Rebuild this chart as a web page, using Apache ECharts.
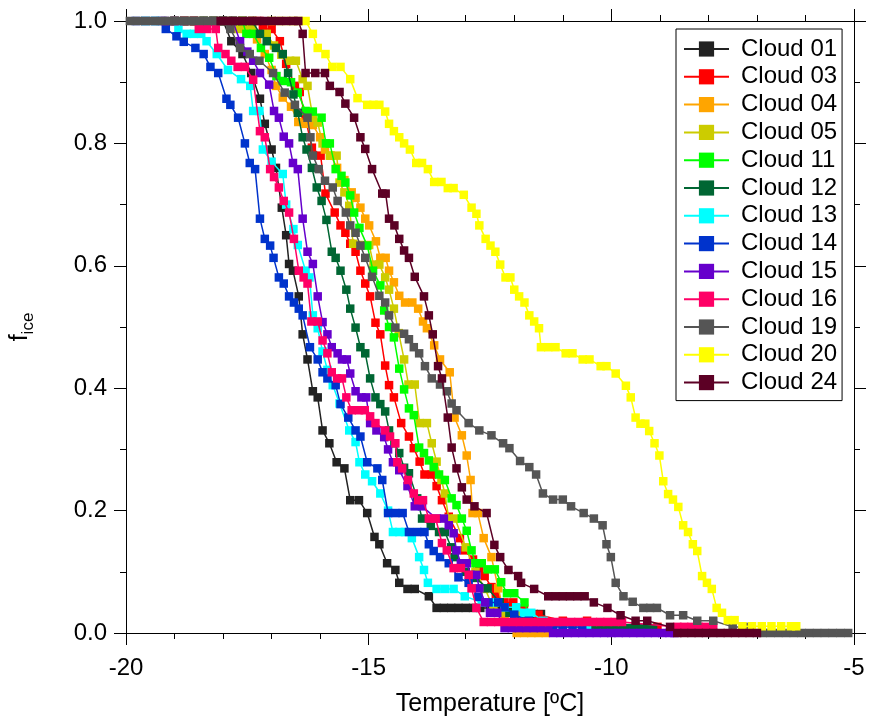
<!DOCTYPE html>
<html>
<head>
<meta charset="utf-8">
<script src="https://cdn.jsdelivr.net/npm/echarts@6/dist/echarts.min.js"></script>
<style>
  html, body { margin: 0; padding: 0; background: #fff; }
  #chart { width: 869px; height: 722px; }
</style>
</head>
<body>
<div id="chart"></div>
<script>
const seriesNames = ["Cloud 01", "Cloud 03", "Cloud 04", "Cloud 05", "Cloud 11", "Cloud 12", "Cloud 13",
  "Cloud 14", "Cloud 15", "Cloud 16", "Cloud 19", "Cloud 20", "Cloud 24"];

const xTicks = [-20, -15, -10, -5];
const yTicks = [0.0, 0.2, 0.4, 0.6, 0.8, 1.0];

// [temperature °C, f_ice]
const cloud01 = [[-19.0,1],[-18.8,1],[-18.6,1],[-18.4,1],[-18.2,1],[-18.0,1],[-17.83,0.967],[-17.6,0.946],[-17.42,0.915],
  [-17.24,0.873],[-17.14,0.832],[-17.0,0.79],[-16.91,0.76],[-16.79,0.695],[-16.7,0.65],[-16.64,0.603],[-16.56,0.592],
  [-16.44,0.55],[-16.36,0.488],[-16.26,0.447],[-16.15,0.395],[-16.05,0.385],[-15.95,0.331],[-15.81,0.31],[-15.66,0.279],
  [-15.5,0.269],[-15.38,0.217],[-15.2,0.217],[-15.03,0.196],[-14.88,0.157],[-14.78,0.145],[-14.62,0.114],[-14.45,0.103],
  [-14.37,0.082],[-14.2,0.072],[-14.05,0.072],[-13.76,0.06],[-13.6,0.041],[-13.45,0.041],[-13.3,0.041],[-13.15,0.041],
  [-13.0,0.041],[-12.85,0.041],[-12.7,0.041],[-12.5,0.041],[-12.3,0.041],[-12.1,0.041],[-11.8,0.031],[-11.6,0.031],[-11.45,0.031]];

const cloud03 = [[-19.0,1],[-18.8,1],[-18.6,1],[-18.4,1],[-18.2,1],[-18.0,1],[-17.8,1],[-17.6,1],[-17.4,1],[-17.25,1],
  [-17.18,0.987],[-17.0,0.987],[-16.83,0.967],[-16.7,0.93],[-16.52,0.894],[-16.42,0.884],[-16.3,0.84],[-16.17,0.793],
  [-15.99,0.78],[-15.89,0.718],[-15.7,0.687],[-15.58,0.666],[-15.48,0.654],[-15.38,0.636],[-15.27,0.623],[-15.17,0.592],
  [-15.07,0.571],[-14.97,0.55],[-14.86,0.507],[-14.76,0.488],[-14.66,0.437],[-14.58,0.405],[-14.48,0.385],[-14.33,0.343],
  [-14.17,0.321],[-14.07,0.302],[-13.95,0.28],[-13.85,0.259],[-13.7,0.259],[-13.6,0.24],[-13.49,0.217],[-13.35,0.19],
  [-13.12,0.155],[-13.02,0.135],[-12.85,0.12],[-12.72,0.106],[-12.61,0.093],[-12.47,0.075],[-12.38,0.062],[-12.2,0.05],
  [-12.02,0.05],[-11.8,0.04],[-11.5,0.03],[-11.0,0.02],[-10.5,0.02],[-10.0,0.01],[-9.05,0.01]];

const cloud04 = [[-19.0,1],[-18.8,1],[-18.6,1],[-18.4,1],[-18.2,1],[-18.0,1],[-17.8,1],[-17.6,1],[-17.4,1],[-17.3,0.97],
  [-17.14,0.946],[-17.0,0.92],[-16.91,0.894],[-16.77,0.875],[-16.6,0.86],[-16.45,0.835],[-16.3,0.832],[-16.15,0.83],
  [-16.0,0.81],[-15.9,0.79],[-15.78,0.78],[-15.65,0.76],[-15.5,0.74],[-15.35,0.72],[-15.27,0.711],[-15.17,0.695],
  [-15.07,0.677],[-14.99,0.666],[-14.85,0.64],[-14.76,0.613],[-14.65,0.613],[-14.58,0.592],[-14.48,0.573],[-14.37,0.551],
  [-14.25,0.54],[-14.1,0.54],[-13.98,0.53],[-13.88,0.509],[-13.8,0.498],[-13.65,0.47],[-13.53,0.447],[-13.33,0.426],
  [-13.23,0.352],[-13.08,0.323],[-12.98,0.29],[-12.9,0.25],[-12.86,0.196],[-12.75,0.196],[-12.63,0.155],[-12.47,0.124],
  [-12.33,0.073],[-12.2,0.03],[-11.95,0],[-11.8,0],[-11.65,0],[-11.5,0],[-11.35,0]];

const cloud05 = [[-19.0,1],[-18.8,1],[-18.6,1],[-18.4,1],[-18.2,1],[-18.0,1],[-17.8,1],[-17.7,0.987],[-17.55,0.987],
  [-17.4,0.987],[-17.1,0.979],[-16.95,0.96],[-16.8,0.945],[-16.62,0.935],[-16.5,0.935],[-16.36,0.905],[-16.26,0.894],
  [-16.15,0.842],[-16.05,0.834],[-15.95,0.8],[-15.8,0.78],[-15.66,0.78],[-15.6,0.736],[-15.5,0.72],[-15.4,0.698],
  [-15.32,0.636],[-15.15,0.634],[-14.99,0.634],[-14.9,0.602],[-14.78,0.602],[-14.66,0.581],[-14.58,0.561],[-14.48,0.53],
  [-14.38,0.49],[-14.27,0.447],[-14.18,0.406],[-14.05,0.406],[-13.95,0.343],[-13.8,0.343],[-13.7,0.31],[-13.6,0.28],
  [-13.5,0.25],[-13.43,0.228],[-13.35,0.187],[-13.22,0.187],[-13.0,0.14],[-12.8,0.1],[-12.6,0.072],[-12.43,0.041],
  [-12.2,0.035],[-11.92,0.033]];

const cloud11 = [[-19.0,1],[-18.8,1],[-18.6,1],[-18.4,1],[-18.2,1],[-18.0,1],[-17.8,1],[-17.6,1],[-17.52,0.979],
  [-17.38,0.979],[-17.22,0.956],[-17.05,0.94],[-16.9,0.91],[-16.77,0.902],[-16.6,0.9],[-16.46,0.883],[-16.3,0.853],
  [-16.15,0.852],[-15.97,0.842],[-15.88,0.8],[-15.8,0.8],[-15.68,0.758],[-15.56,0.747],[-15.48,0.736],[-15.38,0.715],
  [-15.3,0.687],[-15.19,0.662],[-15.03,0.633],[-14.91,0.592],[-14.76,0.568],[-14.68,0.527],[-14.58,0.5],[-14.48,0.483],
  [-14.37,0.432],[-14.27,0.398],[-14.17,0.367],[-14.07,0.356],[-13.96,0.303],[-13.86,0.294],[-13.76,0.282],[-13.66,0.271],
  [-13.55,0.259],[-13.43,0.25],[-13.29,0.22],[-13.19,0.209],[-13.08,0.187],[-12.98,0.167],[-12.88,0.135],[-12.8,0.114],
  [-12.67,0.114],[-12.55,0.104],[-12.4,0.104],[-12.27,0.083],[-12.15,0.065],[-12.0,0.065],[-11.79,0.05],[-11.7,0.03]];

const cloud12 = [[-19.0,1],[-18.8,1],[-18.6,1],[-18.4,1],[-18.2,1],[-18.0,1],[-17.8,1],[-17.6,1],[-17.4,1],[-17.24,0.979],
  [-17.1,0.967],[-16.91,0.956],[-16.77,0.946],[-16.66,0.915],[-16.55,0.88],[-16.46,0.85],[-16.36,0.81],[-16.28,0.79],
  [-16.17,0.76],[-16.07,0.728],[-15.97,0.706],[-15.87,0.675],[-15.76,0.623],[-15.68,0.613],[-15.58,0.592],[-15.46,0.561],
  [-15.38,0.53],[-15.27,0.499],[-15.17,0.467],[-15.07,0.457],[-14.97,0.416],[-14.86,0.385],[-14.76,0.374],[-14.66,0.362],
  [-14.58,0.331],[-14.47,0.31],[-14.37,0.294],[-14.27,0.27],[-14.17,0.261],[-14.0,0.22],[-13.9,0.187],[-13.72,0.175],
  [-13.55,0.165],[-13.43,0.165],[-13.3,0.14],[-13.23,0.124],[-13.0,0.1],[-12.8,0.09],[-12.55,0.073],[-12.3,0.05],
  [-12.1,0.033],[-11.8,0.02],[-11.0,0.01],[-10.42,0.008],[-10.27,0.008],[-10.12,0.008],[-9.97,0.008],[-9.82,0.008],
  [-9.67,0.008],[-9.52,0.008],[-9.37,0.008],[-9.22,0.008],[-9.14,0.008]];

const cloud13 = [[-19.6,1],[-19.4,1],[-19.2,1],[-19.0,1],[-18.92,0.987],[-18.75,0.979],[-18.6,0.979],[-18.45,0.979],
  [-18.34,0.967],[-18.13,0.946],[-17.9,0.92],[-17.63,0.905],[-17.44,0.894],[-17.38,0.853],[-17.25,0.853],[-17.18,0.79],
  [-17.0,0.77],[-16.77,0.75],[-16.7,0.7],[-16.55,0.66],[-16.46,0.634],[-16.3,0.592],[-16.22,0.581],[-16.15,0.519],
  [-16.05,0.498],[-15.95,0.46],[-15.85,0.43],[-15.74,0.405],[-15.6,0.375],[-15.4,0.331],[-15.27,0.312],[-15.19,0.279],
  [-15.07,0.259],[-14.93,0.248],[-14.76,0.228],[-14.6,0.2],[-14.5,0.165],[-14.37,0.165],[-14.25,0.165],[-14.11,0.155],
  [-13.96,0.124],[-13.86,0.103],[-13.78,0.082],[-13.6,0.072],[-13.43,0.072],[-13.25,0.072],[-13.02,0.06],[-12.67,0.05],
  [-12.4,0.05],[-12.2,0.042],[-11.96,0.042],[-11.8,0.033],[-11.65,0.033],[-11.4,0.02],[-11.0,0.01],[-10.5,0.01]];

const cloud14 = [[-19.8,1],[-19.6,1],[-19.4,1],[-19.25,1],[-19.18,0.987],[-18.96,0.975],[-18.81,0.966],[-18.57,0.956],
  [-18.4,0.946],[-18.26,0.925],[-18.1,0.915],[-17.93,0.873],[-17.85,0.863],[-17.69,0.842],[-17.55,0.8],[-17.45,0.768],
  [-17.34,0.758],[-17.24,0.677],[-17.14,0.644],[-17.03,0.633],[-16.96,0.613],[-16.85,0.581],[-16.75,0.571],[-16.64,0.55],
  [-16.54,0.54],[-16.44,0.53],[-16.36,0.519],[-16.21,0.467],[-16.05,0.447],[-15.95,0.426],[-15.85,0.416],[-15.68,0.405],
  [-15.58,0.374],[-15.42,0.352],[-15.27,0.331],[-15.17,0.321],[-15.03,0.279],[-14.82,0.269],[-14.72,0.25],[-14.6,0.196],
  [-14.45,0.196],[-14.3,0.196],[-14.17,0.165],[-14.0,0.165],[-13.85,0.165],[-13.76,0.145],[-13.66,0.134],[-13.53,0.124],
  [-13.35,0.114],[-13.15,0.091],[-12.94,0.082],[-12.74,0.059],[-12.53,0.05],[-12.33,0.05],[-12.2,0.042],[-12.0,0.03],
  [-11.7,0.02],[-11.4,0.01],[-11.2,0.01],[-11.0,0.01],[-10.8,0.01],[-10.6,0.01]];

const cloud15 = [[-19.0,1],[-18.8,1],[-18.6,1],[-18.4,1],[-18.2,1],[-18.0,1],[-17.8,1],[-17.65,0.967],[-17.5,0.95],
  [-17.38,0.935],[-17.24,0.915],[-17.05,0.896],[-16.95,0.853],[-16.85,0.842],[-16.75,0.811],[-16.64,0.8],[-16.56,0.768],
  [-16.46,0.758],[-16.36,0.677],[-16.26,0.623],[-16.15,0.603],[-16.05,0.55],[-15.95,0.508],[-15.85,0.488],[-15.76,0.467],
  [-15.64,0.457],[-15.55,0.447],[-15.45,0.447],[-15.38,0.424],[-15.27,0.395],[-15.15,0.385],[-15.05,0.385],[-14.97,0.343],
  [-14.84,0.331],[-14.68,0.32],[-14.6,0.3],[-14.5,0.279],[-14.37,0.266],[-14.2,0.24],[-14.05,0.207],[-13.9,0.207],
  [-13.6,0.187],[-13.45,0.187],[-13.35,0.176],[-13.25,0.163],[-13.19,0.135],[-13.1,0.114],[-12.98,0.114],[-12.9,0.095],
  [-12.78,0.095],[-12.72,0.073],[-12.6,0.05],[-12.5,0.033],[-12.35,0.033],[-12.2,0.008],[-12.05,0.008],[-11.9,0.008],
  [-11.75,0.008],[-11.6,0.008],[-11.45,0.008],[-11.3,0.008],[-11.2,0],[-11.05,0],[-10.9,0],[-10.75,0],[-10.6,0],[-10.45,0],
  [-10.3,0],[-10.15,0],[-10.0,0],[-9.85,0],[-9.7,0],[-9.55,0],[-9.4,0],[-9.25,0],[-9.1,0],[-8.95,0],[-8.8,0],[-8.7,0]];

const cloud16 = [[-19.2,1],[-19.0,1],[-18.8,1],[-18.6,1],[-18.5,0.987],[-18.33,0.987],[-18.15,0.987],[-18.1,0.956],
  [-17.95,0.946],[-17.83,0.935],[-17.7,0.925],[-17.55,0.925],[-17.38,0.904],[-17.24,0.82],[-17.14,0.81],[-17.03,0.758],
  [-16.95,0.745],[-16.85,0.728],[-16.75,0.706],[-16.64,0.687],[-16.54,0.644],[-16.44,0.592],[-16.34,0.581],[-16.26,0.571],
  [-16.18,0.509],[-16.05,0.509],[-15.95,0.478],[-15.85,0.457],[-15.76,0.426],[-15.65,0.416],[-15.55,0.416],[-15.46,0.385],
  [-15.35,0.364],[-15.2,0.364],[-15.08,0.364],[-14.97,0.354],[-14.86,0.343],[-14.66,0.331],[-14.56,0.321],[-14.45,0.31],
  [-14.41,0.279],[-14.31,0.269],[-14.19,0.25],[-14.07,0.228],[-13.98,0.217],[-13.88,0.217],[-13.76,0.187],[-13.62,0.187],
  [-13.49,0.147],[-13.39,0.135],[-13.25,0.106],[-13.1,0.106],[-12.94,0.095],[-12.88,0.073],[-12.78,0.041],[-12.63,0.018],
  [-12.48,0.018],[-12.33,0.018],[-12.18,0.018],[-12.03,0.018],[-11.88,0.018],[-11.73,0.018],[-11.58,0.018],[-11.43,0.018],
  [-11.28,0.018],[-11.13,0.018],[-10.98,0.018],[-10.83,0.018],[-10.68,0.018],[-10.53,0.018],[-10.38,0.018],[-10.23,0.018],
  [-10.08,0.018],[-9.93,0.018],[-9.78,0.018],[-8.64,0.01],[-8.5,0.01],[-8.35,0.01],[-8.2,0.01],[-8.05,0.01],[-7.9,0.01]];

const cloud19 = [[-19.92,1],[-19.76,1],[-19.6,1],[-19.44,1],[-19.28,1],[-19.12,1],[-18.96,1],[-18.8,1],[-18.64,1],
  [-18.48,1],[-18.32,1],[-18.16,1],[-18.0,1],[-17.85,0.987],[-17.65,0.956],[-17.45,0.946],[-17.25,0.935],[-16.97,0.915],
  [-16.73,0.883],[-16.52,0.863],[-16.26,0.842],[-16.2,0.81],[-16.15,0.78],[-16.03,0.758],[-15.9,0.739],[-15.74,0.728],
  [-15.64,0.706],[-15.47,0.687],[-15.38,0.666],[-15.27,0.654],[-15.17,0.633],[-15.07,0.613],[-14.93,0.582],[-14.78,0.551],
  [-14.66,0.54],[-14.58,0.519],[-14.45,0.499],[-14.27,0.489],[-14.17,0.48],[-14.07,0.467],[-13.96,0.457],[-13.84,0.436],
  [-13.7,0.416],[-13.53,0.406],[-13.39,0.395],[-13.29,0.375],[-13.19,0.364],[-12.94,0.343],[-12.72,0.331],[-12.47,0.323],
  [-12.23,0.31],[-12.1,0.302],[-11.88,0.281],[-11.69,0.271],[-11.55,0.259],[-11.41,0.228],[-11.2,0.218],[-11.0,0.218],
  [-10.83,0.207],[-10.57,0.196],[-10.36,0.187],[-10.18,0.176],[-10.1,0.145],[-10.01,0.124],[-9.91,0.082],[-9.75,0.06],
  [-9.56,0.051],[-9.34,0.041],[-9.2,0.041],[-9.06,0.041],[-8.79,0.029],[-8.52,0.029],[-8.23,0.02],[-7.9,0.02],[-7.5,0.01],
  [-7.21,0.01],[-6.88,0],[-6.72,0],[-6.56,0],[-6.4,0],[-6.24,0],[-6.08,0],[-5.92,0],[-5.76,0],[-5.6,0],[-5.44,0],[-5.28,0],
  [-5.12,0]];

const cloud20 = [[-17.0,1],[-16.8,1],[-16.6,1],[-16.45,1],[-16.3,1],[-16.15,0.979],[-16.05,0.956],[-15.89,0.946],
  [-15.75,0.925],[-15.58,0.925],[-15.38,0.905],[-15.23,0.874],[-15.03,0.863],[-14.9,0.863],[-14.78,0.863],[-14.66,0.852],
  [-14.58,0.832],[-14.48,0.82],[-14.37,0.81],[-14.27,0.8],[-14.15,0.79],[-14.02,0.768],[-13.9,0.768],[-13.78,0.758],
  [-13.65,0.737],[-13.5,0.737],[-13.37,0.727],[-13.25,0.727],[-13.04,0.716],[-12.88,0.695],[-12.78,0.685],[-12.72,0.666],
  [-12.59,0.644],[-12.49,0.633],[-12.39,0.623],[-12.29,0.602],[-12.18,0.581],[-12.08,0.581],[-12.0,0.561],[-11.9,0.55],
  [-11.79,0.54],[-11.69,0.519],[-11.59,0.509],[-11.49,0.498],[-11.45,0.467],[-11.3,0.467],[-11.15,0.467],[-10.94,0.457],
  [-10.8,0.457],[-10.59,0.447],[-10.45,0.447],[-10.22,0.436],[-10.1,0.436],[-9.91,0.424],[-9.7,0.404],[-9.6,0.385],
  [-9.5,0.352],[-9.4,0.342],[-9.3,0.342],[-9.22,0.33],[-9.11,0.31],[-9.01,0.29],[-8.93,0.248],[-8.83,0.227],[-8.73,0.218],
  [-8.62,0.206],[-8.52,0.176],[-8.42,0.165],[-8.32,0.145],[-8.23,0.134],[-8.13,0.093],[-8.03,0.082],[-7.93,0.072],
  [-7.83,0.041],[-7.72,0.033],[-7.6,0.021],[-7.46,0.021],[-7.3,0.011],[-7.1,0.011],[-6.9,0.011],[-6.7,0.011],[-6.5,0.011],
  [-6.3,0.011],[-6.19,0.011]];

const cloud24 = [[-18.05,1],[-17.9,1],[-17.75,1],[-17.6,1],[-17.45,1],[-17.3,1],[-17.15,1],[-17.0,1],[-16.85,1],[-16.7,1],
  [-16.55,1],[-16.45,1],[-16.36,0.979],[-16.3,0.915],[-16.1,0.915],[-15.9,0.915],[-15.8,0.894],[-15.6,0.884],[-15.48,0.865],
  [-15.3,0.842],[-15.17,0.81],[-15.07,0.791],[-14.93,0.758],[-14.72,0.718],[-14.65,0.718],[-14.58,0.677],[-14.47,0.666],
  [-14.37,0.644],[-14.27,0.625],[-14.17,0.613],[-14.05,0.582],[-13.86,0.55],[-13.76,0.519],[-13.68,0.488],[-13.57,0.436],
  [-13.49,0.416],[-13.37,0.352],[-13.29,0.303],[-13.19,0.269],[-13.08,0.238],[-12.98,0.218],[-12.82,0.207],[-12.57,0.196],
  [-12.41,0.144],[-12.29,0.124],[-12.12,0.103],[-11.92,0.093],[-11.86,0.082],[-11.59,0.072],[-11.3,0.06],[-11.15,0.06],
  [-11.0,0.06],[-10.85,0.06],[-10.7,0.06],[-10.55,0.06],[-10.36,0.05],[-10.08,0.041],[-9.81,0.029],[-9.5,0.02],
  [-9.26,0.02],[-8.79,0.01],[-8.64,0],[-8.5,0],[-8.35,0],[-8.2,0],[-8.05,0],[-7.9,0],[-7.75,0],[-7.6,0],[-7.45,0],
  [-7.3,0],[-7.15,0],[-7.0,0]];

const seriesData = [cloud01, cloud03, cloud04, cloud05, cloud11, cloud12, cloud13,
  cloud14, cloud15, cloud16, cloud19, cloud20, cloud24];

const colors = ["#222222", "#ff0000", "#ffa500", "#cccc00", "#00ff00", "#006633", "#00ffff",
  "#0033cc", "#6600cc", "#ff0066", "#555555", "#ffff00", "#5c0025"];

const FONT = "Liberation Sans, Arial, sans-serif";

const chart = echarts.init(document.getElementById("chart"));

const xAxisBase = {
  type: "value",
  min: xTicks[0],
  max: xTicks[xTicks.length - 1],
  interval: 5,
  axisLine: { onZero: false, lineStyle: { color: "#000", width: 1 } },
  axisTick: { length: 12, lineStyle: { color: "#000" } },
  minorTick: { show: true, splitNumber: 5, length: 6, lineStyle: { color: "#000" } },
  splitLine: { show: false },
  minorSplitLine: { show: false }
};

const yAxisBase = {
  type: "value",
  min: yTicks[0],
  max: yTicks[yTicks.length - 1],
  interval: 0.2,
  axisLine: { show: true, onZero: false, lineStyle: { color: "#000", width: 1 } },
  axisTick: { show: true, length: 12, lineStyle: { color: "#000" } },
  minorTick: { show: true, splitNumber: 2, length: 6, lineStyle: { color: "#000" } },
  splitLine: { show: false },
  minorSplitLine: { show: false }
};

const option = {
  animation: false,
  backgroundColor: "#fff",
  grid: { left: 125, right: 15, top: 21, bottom: 89 },
  legend: {
    orient: "vertical",
    left: 676,
    top: 29,
    padding: [8, 5, 6, 7],
    borderColor: "#000",
    borderWidth: 1,
    itemWidth: 45,
    itemHeight: 19,
    itemGap: 3.8,
    textStyle: { fontFamily: FONT, fontSize: 24, color: "#000", padding: [0, 0, 0, 7] },
    data: seriesNames
  },
  xAxis: [
    Object.assign({}, xAxisBase, {
      position: "bottom",
      name: "Temperature [ºC]",
      nameLocation: "middle",
      nameGap: 59,
      nameTextStyle: { fontFamily: FONT, fontSize: 25, color: "#000" },
      axisLabel: { fontFamily: FONT, fontSize: 24, color: "#000", margin: 23 }
    }),
    Object.assign({}, xAxisBase, { position: "top", axisLabel: { show: false } })
  ],
  yAxis: [
    Object.assign({}, yAxisBase, {
      position: "left",
      name: "{f|f}{s|ice}",
      nameLocation: "middle",
      nameRotate: 90,
      nameGap: 89,
      nameTextStyle: {
        color: "#000",
        rich: {
          f: { fontFamily: FONT, fontSize: 25, color: "#000", verticalAlign: "middle" },
          s: { fontFamily: FONT, fontSize: 17, color: "#000", verticalAlign: "middle", padding: [16, 0, 0, 0] }
        }
      },
      axisLabel: { fontFamily: FONT, fontSize: 24, color: "#000", margin: 19, formatter: v => v.toFixed(1) }
    }),
    Object.assign({}, yAxisBase, { position: "right", axisLabel: { show: false } })
  ],
  series: seriesNames.map((name, i) => ({
    name: name,
    type: "line",
    xAxisIndex: 0,
    yAxisIndex: 0,
    data: seriesData[i],
    symbol: "rect",
    symbolSize: 8.5,
    color: colors[i],
    lineStyle: { width: 1.5, color: colors[i] },
    itemStyle: { color: colors[i] },
    z: 2 + i
  }))
};

chart.setOption(option);
</script>
</body>
</html>
